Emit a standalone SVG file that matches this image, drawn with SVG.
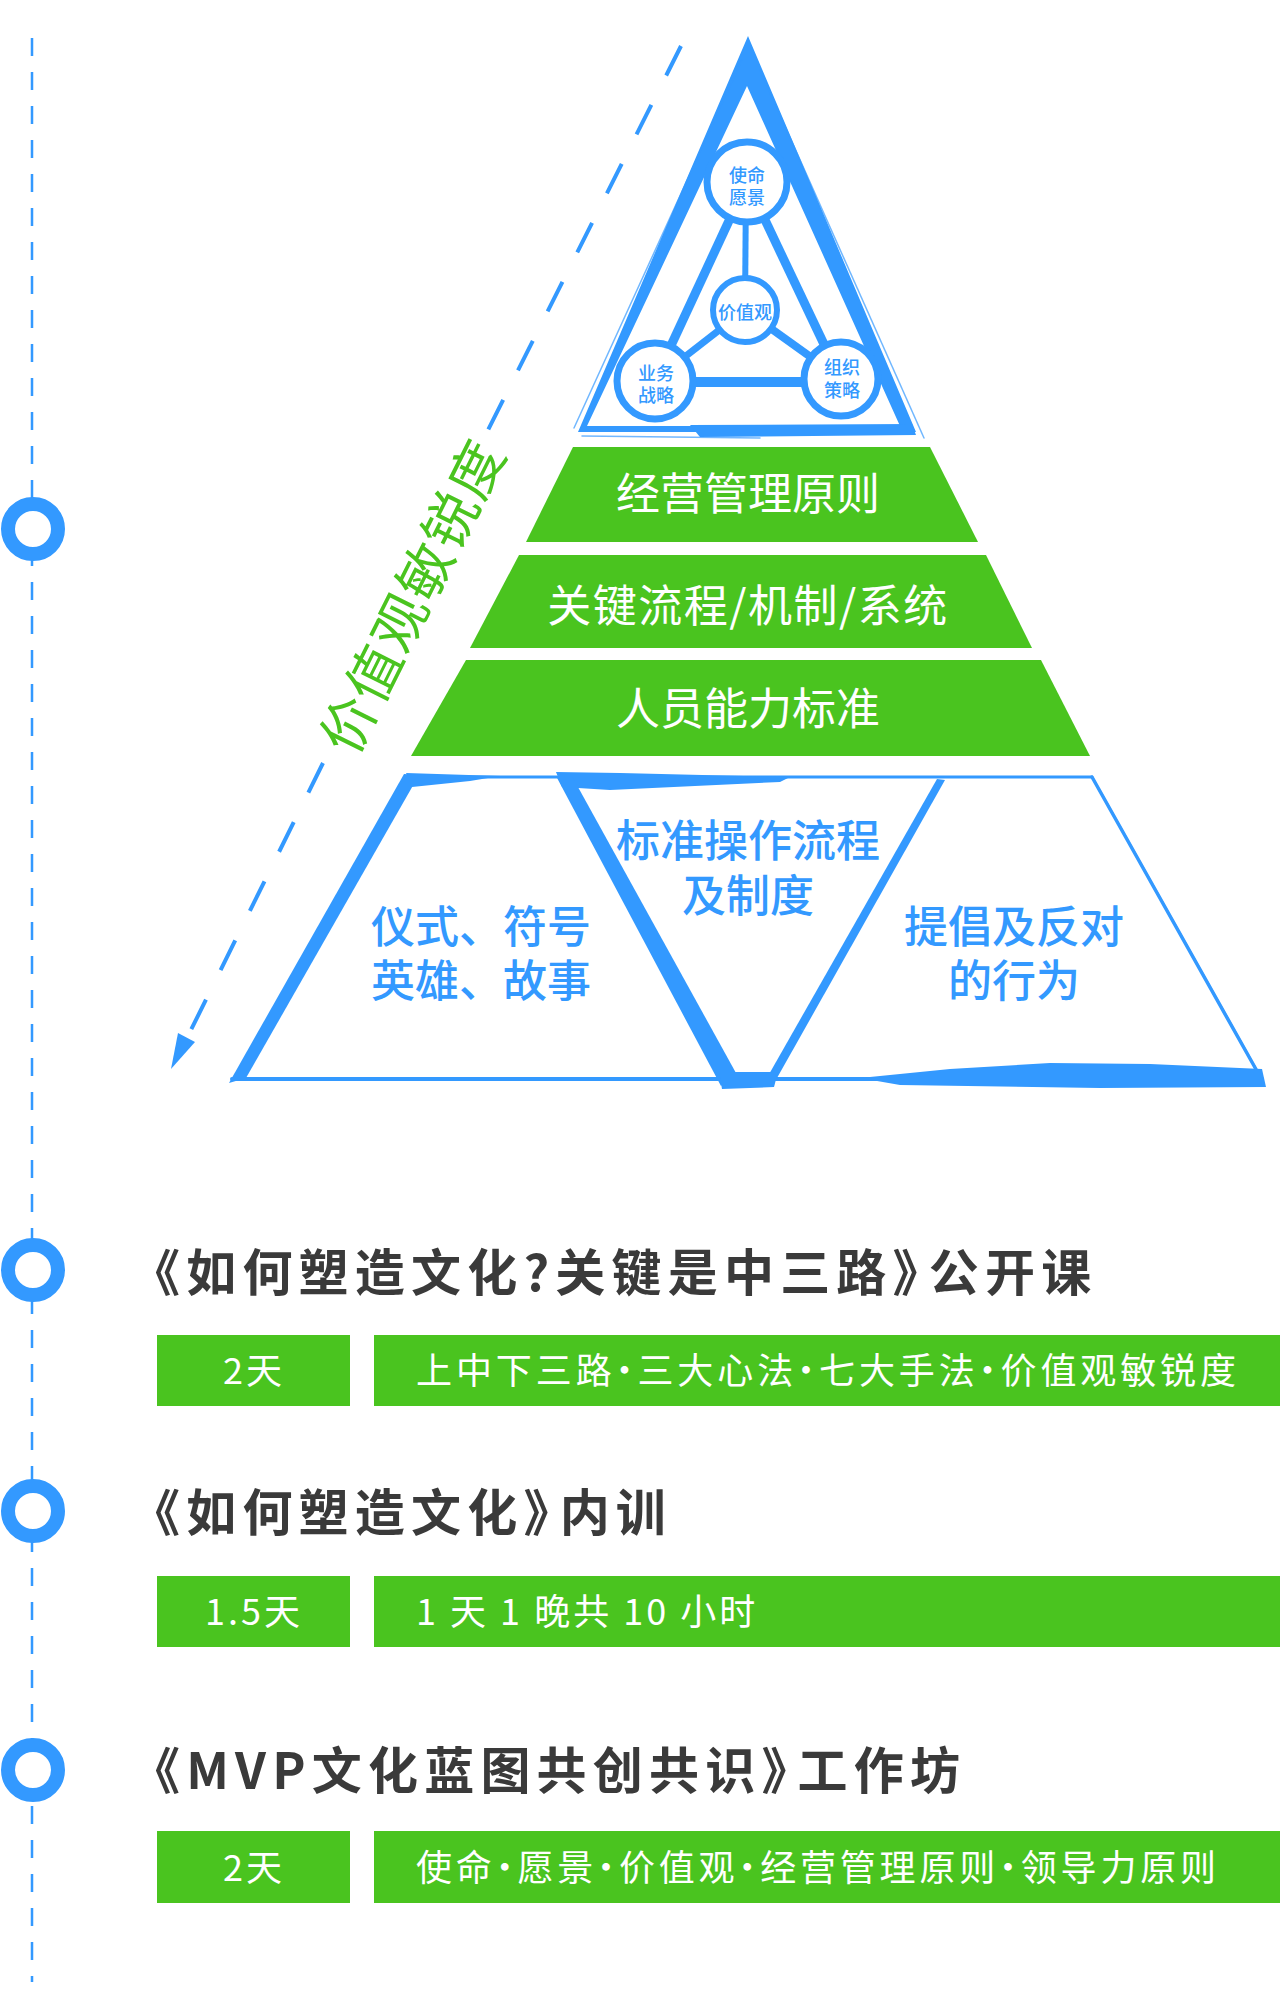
<svg xmlns="http://www.w3.org/2000/svg" width="1280" height="1999" viewBox="0 0 1280 1999">
<style>
  text{font-family:"Noto Sans CJK SC","Noto Sans",sans-serif}
  .band{fill:#4ac41f}
  .bandtxt{fill:#ffffff;font-size:44px;text-anchor:middle}
  .bl{fill:#3399ff}
  .bls{fill:none;stroke:#3399ff;stroke-linecap:round}
  .dash{stroke:#3399ff;stroke-width:4;stroke-dasharray:33 33}
  .bluetxt{fill:#3399ff;font-size:44px;text-anchor:middle;font-weight:500}
  .ctxt{fill:#3399ff;font-size:18px;text-anchor:middle;font-weight:500}
  .node{fill:#ffffff;stroke:#3399ff}
  .title{fill:#3a3a3a;font-size:50px;font-weight:bold;letter-spacing:6.2px}
  .box{fill:#4ac41f}
  .boxtxt{fill:#ffffff;font-size:36px;letter-spacing:3px}
  .ring{fill:#ffffff;stroke:#3399ff;stroke-width:14}
</style>
<rect width="1280" height="1999" fill="#ffffff"/>

<!-- timeline -->
<g id="timeline">
  <line x1="32" y1="38" x2="32" y2="1982" stroke="#3399ff" stroke-width="2.5" stroke-dasharray="18 16"/>
  <circle class="ring" cx="33" cy="529" r="25"/>
  <circle class="ring" cx="33" cy="1270" r="25"/>
  <circle class="ring" cx="33" cy="1511" r="25"/>
  <circle class="ring" cx="33" cy="1770" r="25"/>
</g>

<!-- connectors -->
<g id="connectors">
  <line class="dash" x1="681" y1="46" x2="488" y2="430"/>
  <line class="dash" x1="323" y1="763" x2="187" y2="1038"/>
  <path d="M178,1033 L195,1042 L171,1069 Z" fill="#3399ff"/>
  <line x1="747" y1="182" x2="655" y2="380" stroke="#3399ff" stroke-width="9"/>
  <line x1="747" y1="182" x2="840" y2="378" stroke="#3399ff" stroke-width="9"/>
  <line x1="746" y1="182" x2="745" y2="310" stroke="#3399ff" stroke-width="6"/>
  <line x1="745" y1="310" x2="655" y2="380" stroke="#3399ff" stroke-width="7"/>
  <line x1="745" y1="310" x2="840" y2="378" stroke="#3399ff" stroke-width="8"/>
  <line x1="655" y1="382" x2="840" y2="382" stroke="#3399ff" stroke-width="10"/>
</g>

<!-- diagonal label -->
<g id="label-sensitivity">
  <text transform="translate(413,596) rotate(-63.5)" x="0" y="20" text-anchor="middle" style="font-size:55px;fill:#4ac41f;letter-spacing:2px">价值观敏锐度</text>
</g>

<!-- top triangle -->
<g id="top-triangle">
  <path class="bl" fill-rule="evenodd" d="M748,36 L916,432 L578,432 Z M747,86 L900,426 L587,426 Z"/>
  <path class="bl" d="M690,425 L912,424 L916,435 L700,437 Z"/>
  <line class="bls" x1="742" y1="60" x2="574" y2="428" stroke-width="1.5" opacity="0.7"/>
  <line class="bls" x1="760" y1="70" x2="924" y2="438" stroke-width="1.5" opacity="0.7"/>
  <line class="bls" x1="582" y1="436" x2="760" y2="438" stroke-width="1.5" opacity="0.7"/>
</g>

<g id="node-mission">
  <circle class="node" cx="747" cy="182" r="40" stroke-width="7"/>
  <text class="ctxt" x="747" y="182">使命</text>
  <text class="ctxt" x="747" y="204">愿景</text>
</g>
<g id="node-values">
  <circle class="node" cx="745" cy="310" r="32" stroke-width="6"/>
  <text class="ctxt" x="745" y="319">价值观</text>
</g>
<g id="node-business">
  <circle class="node" cx="655" cy="381" r="38" stroke-width="7"/>
  <text class="ctxt" x="656" y="380">业务</text>
  <text class="ctxt" x="656" y="402">战略</text>
</g>
<g id="node-org">
  <circle class="node" cx="841" cy="379" r="37" stroke-width="7"/>
  <text class="ctxt" x="842" y="374">组织</text>
  <text class="ctxt" x="842" y="397">策略</text>
</g>

<!-- green bands -->
<g id="band-principles">
  <path class="band" d="M573,447 L930,447 L978,542 L526,542 Z"/>
  <text class="bandtxt" x="748" y="510">经营管理原则</text>
</g>
<g id="band-process">
  <path class="band" d="M519,555 L986,555 L1032,648 L470,648 Z"/>
  <text class="bandtxt" x="748" y="622" style="letter-spacing:1.5px">关键流程/机制/系统</text>
</g>
<g id="band-people">
  <path class="band" d="M466,660 L1041,660 L1090,756 L411,756 Z"/>
  <text class="bandtxt" x="748" y="725">人员能力标准</text>
</g>

<!-- bottom trapezoid -->
<g id="bottom-frame">
  <path class="bl" d="M404,774 L419,775 L246,1078 L229,1083 Z"/>
  <line class="bls" x1="408" y1="777" x2="1092" y2="777" stroke-width="3"/>
  <path class="bl" d="M406,773 L500,776 L470,781 L412,787 Z"/>
  <path class="bl" d="M556,772 L620,773 L790,777 L780,782 L610,790 L562,787 Z"/>
  <line class="bls" x1="1092" y1="777" x2="1262" y2="1080" stroke-width="3.5"/>
  <line class="bls" x1="1100" y1="790" x2="1255" y2="1066" stroke-width="1.2" opacity="0.6"/>
  <line class="bls" x1="232" y1="1079" x2="1262" y2="1079" stroke-width="4"/>
  <path class="bl" d="M860,1078 L950,1069 L1050,1063 L1150,1064 L1262,1069 L1266,1087 L1100,1088 L900,1085 Z"/>
  <path class="bl" d="M556,776 L573,778 L736,1073 L721,1086 Z"/>
  <path class="bl" d="M937,779 L945,780 L777,1078 L768,1076 Z"/>
  <path class="bl" d="M719,1072 L778,1072 L774,1087 L722,1089 Z"/>
</g>
<g id="node-rituals">
  <text class="bluetxt" x="481" y="943">仪式、符号</text>
  <text class="bluetxt" x="481" y="997">英雄、故事</text>
</g>
<g id="node-sop">
  <text class="bluetxt" x="748" y="857">标准操作流程</text>
  <text class="bluetxt" x="748" y="912">及制度</text>
</g>
<g id="node-behaviors">
  <text class="bluetxt" x="1014" y="943">提倡及反对</text>
  <text class="bluetxt" x="1014" y="997">的行为</text>
</g>

<!-- course 1 -->
<g id="course-1">
  <text class="title" x="130" y="1291" dx="0 0 0 0 0 0 0 0 0 0 0 0 0 0 0 -20">《如何塑造文化?关键是中三路》公开课</text>
  <rect class="box" x="157" y="1335" width="193" height="71"/>
  <text class="boxtxt" x="254" y="1384" text-anchor="middle">2天</text>
  <rect class="box" x="374" y="1335" width="906" height="71"/>
  <text class="boxtxt" x="416" y="1384" style="letter-spacing:3.9px" dx="0 0 0 0 0 -9 -9 0 0 0 -9 -9 0 0 0 -9 -9">上中下三路·三大心法·七大手法·价值观敏锐度</text>
</g>
<!-- course 2 -->
<g id="course-2">
  <text class="title" x="130" y="1531" dx="0 0 0 0 0 0 0 0 -20">《如何塑造文化》内训</text>
  <rect class="box" x="157" y="1576" width="193" height="71"/>
  <text class="boxtxt" x="254" y="1625" text-anchor="middle">1.5天</text>
  <rect class="box" x="374" y="1576" width="906" height="71"/>
  <text class="boxtxt" x="416" y="1625">1 天 1 晚共 10 小时</text>
</g>
<!-- course 3 -->
<g id="course-3">
  <text class="title" x="130" y="1789" dx="0 0 0 0 0 0 0 0 0 0 0 0 0 -20">《MVP文化蓝图共创共识》工作坊</text>
  <rect class="box" x="157" y="1831" width="193" height="72"/>
  <text class="boxtxt" x="254" y="1881" text-anchor="middle">2天</text>
  <rect class="box" x="374" y="1831" width="906" height="72"/>
  <text class="boxtxt" x="416" y="1881" style="letter-spacing:3.8px" dx="0 0 -9 -9 0 -9 -9 0 0 -9 -9 0 0 0 0 0 -9 -9">使命·愿景·价值观·经营管理原则·领导力原则</text>
</g>
</svg>
